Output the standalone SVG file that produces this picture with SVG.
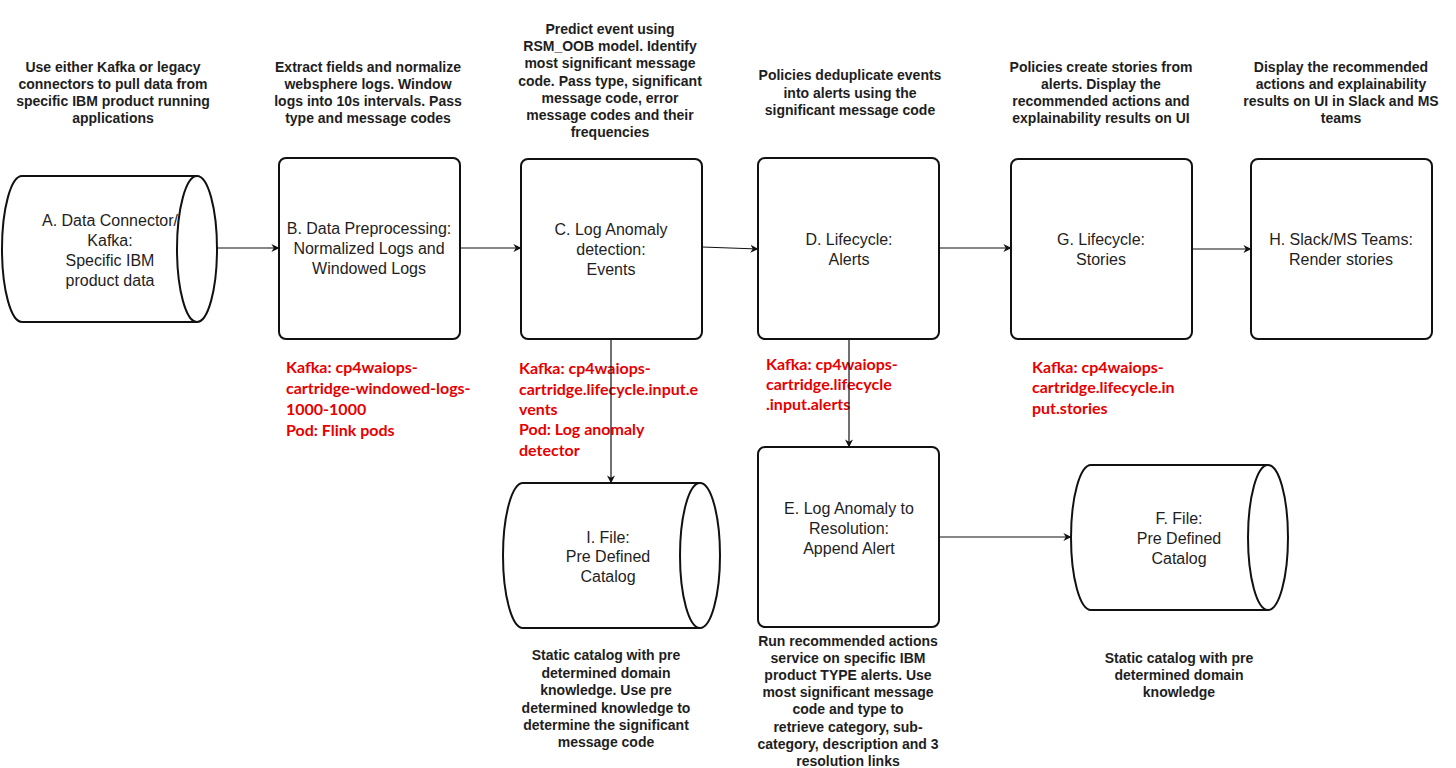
<svg xmlns="http://www.w3.org/2000/svg" width="1456" height="768" viewBox="0 0 1456 768">
<defs>
<marker id="arr" viewBox="0 0 10 10" refX="9.5" refY="5" markerWidth="8" markerHeight="8" markerUnits="userSpaceOnUse" orient="auto">
<path d="M0,0 L10,5 L0,10 L3,5 Z" fill="#111"/>
</marker>
<style>
.box{fill:#fff;stroke:#111;stroke-width:2}
.cyl{fill:#fff;stroke:#111;stroke-width:2}
.cin{fill:none;stroke:#111;stroke-width:2}
.lbl{font-family:"Liberation Sans",Arial,sans-serif;font-size:16px;fill:#1e1e1e;text-anchor:middle}
.desc{font-family:"Liberation Sans",Arial,sans-serif;font-size:14px;font-weight:bold;fill:#1e1e1e;text-anchor:middle}
.red{font-family:Lato,"Open Sans",sans-serif;font-size:16px;font-weight:bold;fill:#e60000}
.con{fill:none;stroke:#111;stroke-width:1.2;marker-end:url(#arr)}
</style>
</defs>
<rect width="1456" height="768" fill="#fff"/>

<g id="descriptions">
<text class="desc"><tspan x="113" y="72">Use either Kafka or legacy</tspan><tspan x="113" y="89">connectors to pull data from</tspan><tspan x="113" y="106">specific IBM product running</tspan><tspan x="113" y="123">applications</tspan></text>
<text class="desc"><tspan x="368" y="72">Extract fields and normalize</tspan><tspan x="368" y="89">websphere logs. Window</tspan><tspan x="368" y="106">logs into 10s intervals. Pass</tspan><tspan x="368" y="123">type and message codes</tspan></text>
<text class="desc"><tspan x="610" y="34">Predict event using</tspan><tspan x="610" y="51">RSM_OOB model. Identify</tspan><tspan x="610" y="68">most significant message</tspan><tspan x="610" y="86">code. Pass type, significant</tspan><tspan x="610" y="103">message code, error</tspan><tspan x="610" y="120">message codes and their</tspan><tspan x="610" y="137">frequencies</tspan></text>
<text class="desc"><tspan x="850" y="80">Policies deduplicate events</tspan><tspan x="850" y="98">into alerts using the</tspan><tspan x="850" y="115">significant message code</tspan></text>
<text class="desc"><tspan x="1101" y="72">Policies create stories from</tspan><tspan x="1101" y="89">alerts. Display the</tspan><tspan x="1101" y="106">recommended actions and</tspan><tspan x="1101" y="123">explainability results on UI</tspan></text>
<text class="desc"><tspan x="1341" y="72">Display the recommended</tspan><tspan x="1341" y="89">actions and explainability</tspan><tspan x="1341" y="106">results on UI in Slack and MS</tspan><tspan x="1341" y="123">teams</tspan></text>
<text class="desc"><tspan x="606" y="660">Static catalog with pre</tspan><tspan x="606" y="678">determined domain</tspan><tspan x="606" y="695">knowledge. Use pre</tspan><tspan x="606" y="713">determined knowledge to</tspan><tspan x="606" y="730">determine the significant</tspan><tspan x="606" y="747">message code</tspan></text>
<text class="desc"><tspan x="848" y="646">Run recommended actions</tspan><tspan x="848" y="663">service on specific IBM</tspan><tspan x="848" y="680">product TYPE alerts. Use</tspan><tspan x="848" y="697">most significant message</tspan><tspan x="848" y="714">code and type to</tspan><tspan x="848" y="732">retrieve category, sub-</tspan><tspan x="848" y="749">category, description and 3</tspan><tspan x="848" y="766">resolution links</tspan></text>
<text class="desc"><tspan x="1179" y="663">Static catalog with pre</tspan><tspan x="1179" y="680">determined domain</tspan><tspan x="1179" y="697">knowledge</tspan></text>
</g>

<g id="kafka-labels">
<text class="red"><tspan x="286" y="373">Kafka: cp4waiops-</tspan><tspan x="286" y="394">cartridge-windowed-logs-</tspan><tspan x="286" y="415">1000-1000</tspan><tspan x="286" y="436">Pod: Flink pods</tspan></text>
<text class="red"><tspan x="519" y="374">Kafka: cp4waiops-</tspan><tspan x="519" y="395">cartridge.lifecycle.input.e</tspan><tspan x="519" y="415">vents</tspan><tspan x="519" y="435">Pod: Log anomaly</tspan><tspan x="519" y="456">detector</tspan></text>
<text class="red"><tspan x="766" y="370">Kafka: cp4waiops-</tspan><tspan x="766" y="390">cartridge.lifecycle</tspan><tspan x="766" y="410">.input.alerts</tspan></text>
<text class="red"><tspan x="1032" y="373">Kafka: cp4waiops-</tspan><tspan x="1032" y="393">cartridge.lifecycle.in</tspan><tspan x="1032" y="414">put.stories</tspan></text>
</g>

<g id="connectors">
<line class="con" x1="217" y1="248" x2="279" y2="248"/>
<line class="con" x1="460" y1="248" x2="521" y2="248"/>
<line class="con" x1="702" y1="247" x2="758" y2="249"/>
<line class="con" x1="939" y1="248" x2="1011" y2="248"/>
<line class="con" x1="1192" y1="249" x2="1251" y2="249"/>
<line class="con" x1="611" y1="339" x2="611" y2="483"/>
<line class="con" x1="849" y1="339" x2="849" y2="447"/>
<line class="con" x1="939" y1="537" x2="1071" y2="537"/>
</g>

<g id="node-A">
<path class="cyl" d="M22,176 L197,176 A20,73 0 0 1 197,322 L22,322 A20,73 0 0 1 22,176 Z"/>
<path class="cin" d="M197,176 A20,73 0 0 0 197,322"/>
<text class="lbl"><tspan x="110" y="226">A. Data Connector/</tspan><tspan x="110" y="246">Kafka:</tspan><tspan x="110" y="266">Specific IBM</tspan><tspan x="110" y="286">product data</tspan></text>
</g>

<g id="node-B">
<rect class="box" x="279" y="158" width="181" height="181" rx="7"/>
<text class="lbl"><tspan x="369" y="234">B. Data Preprocessing:</tspan><tspan x="369" y="254">Normalized Logs and</tspan><tspan x="369" y="274">Windowed Logs</tspan></text>
</g>

<g id="node-C">
<rect class="box" x="521" y="159" width="181" height="180" rx="7"/>
<text class="lbl"><tspan x="611" y="235">C. Log Anomaly</tspan><tspan x="611" y="255">detection:</tspan><tspan x="611" y="275">Events</tspan></text>
</g>

<g id="node-D">
<rect class="box" x="758" y="158" width="181" height="181" rx="7"/>
<text class="lbl"><tspan x="849" y="245">D. Lifecycle:</tspan><tspan x="849" y="265">Alerts</tspan></text>
</g>

<g id="node-G">
<rect class="box" x="1011" y="159" width="181" height="180" rx="7"/>
<text class="lbl"><tspan x="1101" y="245">G. Lifecycle:</tspan><tspan x="1101" y="265">Stories</tspan></text>
</g>

<g id="node-H">
<rect class="box" x="1251" y="159" width="181" height="180" rx="7"/>
<text class="lbl"><tspan x="1341" y="245">H. Slack/MS Teams:</tspan><tspan x="1341" y="265">Render stories</tspan></text>
</g>

<g id="node-E">
<rect class="box" x="758" y="447" width="181" height="180" rx="7"/>
<text class="lbl"><tspan x="849" y="514">E. Log Anomaly to</tspan><tspan x="849" y="534">Resolution:</tspan><tspan x="849" y="554">Append Alert</tspan></text>
</g>

<g id="node-I">
<path class="cyl" d="M523,483 L700,483 A20,72.5 0 0 1 700,628 L523,628 A20,72.5 0 0 1 523,483 Z"/>
<path class="cin" d="M700,483 A20,72.5 0 0 0 700,628"/>
<text class="lbl"><tspan x="608" y="543">I. File:</tspan><tspan x="608" y="562">Pre Defined</tspan><tspan x="608" y="582">Catalog</tspan></text>
</g>

<g id="node-F">
<path class="cyl" d="M1091,465 L1268,465 A20,72.5 0 0 1 1268,610 L1091,610 A20,72.5 0 0 1 1091,465 Z"/>
<path class="cin" d="M1268,465 A20,72.5 0 0 0 1268,610"/>
<text class="lbl"><tspan x="1179" y="524">F. File:</tspan><tspan x="1179" y="544">Pre Defined</tspan><tspan x="1179" y="564">Catalog</tspan></text>
</g>
</svg>
